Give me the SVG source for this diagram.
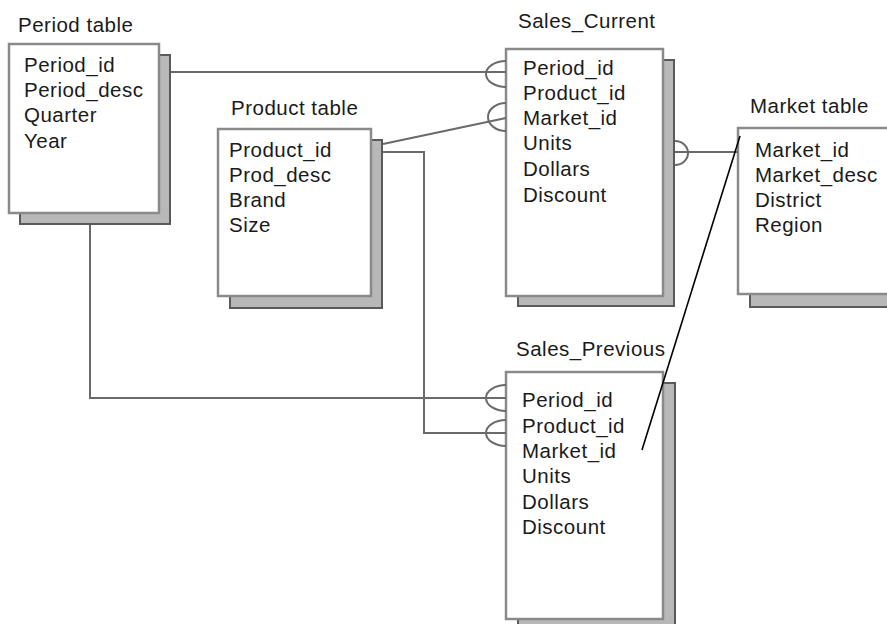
<svg xmlns="http://www.w3.org/2000/svg" width="887" height="624" viewBox="0 0 887 624">
<style>
.bg{fill:#fff}
.shadow{fill:#b8b8b8;stroke:#5a5a5a;stroke-width:2}
.box{fill:#fff;stroke:#8a8a8a;stroke-width:2.5}
.t{font-family:"Liberation Sans",Arial,sans-serif;font-size:20.5px;letter-spacing:0.5px;fill:#1a1a1a}
.c{fill:none;stroke:#6a6a6a;stroke-width:2}
.d{fill:none;stroke:#000;stroke-width:1.6}
</style>
<rect class="bg" x="0" y="0" width="887" height="624"/>
<g id="period-table">
<rect class="shadow" x="20" y="55" width="150" height="169"/>
<rect class="box" x="9" y="44" width="150" height="169"/>
<text class="t" x="18" y="32">Period table</text>
<text class="t" x="24" y="72">Period_id</text>
<text class="t" x="24" y="97">Period_desc</text>
<text class="t" x="24" y="122">Quarter</text>
<text class="t" x="24" y="148">Year</text>
</g>
<g id="product-table">
<rect class="shadow" x="230" y="140" width="152" height="168"/>
<rect class="box" x="218" y="129" width="153" height="167"/>
<text class="t" x="231" y="115">Product table</text>
<text class="t" x="229" y="157">Product_id</text>
<text class="t" x="229" y="182">Prod_desc</text>
<text class="t" x="229" y="207">Brand</text>
<text class="t" x="229" y="232">Size</text>
</g>
<g id="sales-current">
<rect class="shadow" x="518" y="60" width="156" height="246"/>
<rect class="box" x="506" y="49" width="157" height="247"/>
<text class="t" x="518" y="28">Sales_Current</text>
<text class="t" x="523" y="75">Period_id</text>
<text class="t" x="523" y="100">Product_id</text>
<text class="t" x="523" y="125">Market_id</text>
<text class="t" x="523" y="150">Units</text>
<text class="t" x="523" y="176">Dollars</text>
<text class="t" x="523" y="202">Discount</text>
</g>
<g id="market-table">
<rect class="shadow" x="750" y="139" width="160" height="168"/>
<rect class="box" x="738" y="128" width="160" height="166"/>
<text class="t" x="750" y="113">Market table</text>
<text class="t" x="755" y="157">Market_id</text>
<text class="t" x="755" y="182">Market_desc</text>
<text class="t" x="755" y="207">District</text>
<text class="t" x="755" y="232">Region</text>
</g>
<g id="sales-previous">
<rect class="shadow" x="518" y="383" width="157" height="250"/>
<rect class="box" x="506" y="372" width="157" height="247"/>
<text class="t" x="516" y="356">Sales_Previous</text>
<text class="t" x="522" y="407">Period_id</text>
<text class="t" x="522" y="433">Product_id</text>
<text class="t" x="522" y="458">Market_id</text>
<text class="t" x="522" y="483">Units</text>
<text class="t" x="522" y="509">Dollars</text>
<text class="t" x="522" y="534">Discount</text>
</g>
<g id="connectors">
<line class="c" x1="171" y1="72" x2="506" y2="72"/>
<path class="c" d="M506 61 A20 13 0 0 0 506 87"/>
<line class="c" x1="383" y1="144" x2="506" y2="118"/>
<path class="c" d="M506 103 A18 14 0 0 0 506 131"/>
<line class="c" x1="675" y1="152" x2="738" y2="152"/>
<path class="c" d="M675 141 A13 12 0 0 1 675 165"/>
<polyline class="c" points="90,225 90,398 506,398"/>
<path class="c" d="M506 385 A20 13 0 0 0 506 411"/>
<polyline class="c" points="383,152 424,152 424,433 506,433"/>
<path class="c" d="M506 420 A20 13 0 0 0 506 446"/>
<line class="d" x1="740" y1="136" x2="642" y2="450"/>
</g>
</svg>
